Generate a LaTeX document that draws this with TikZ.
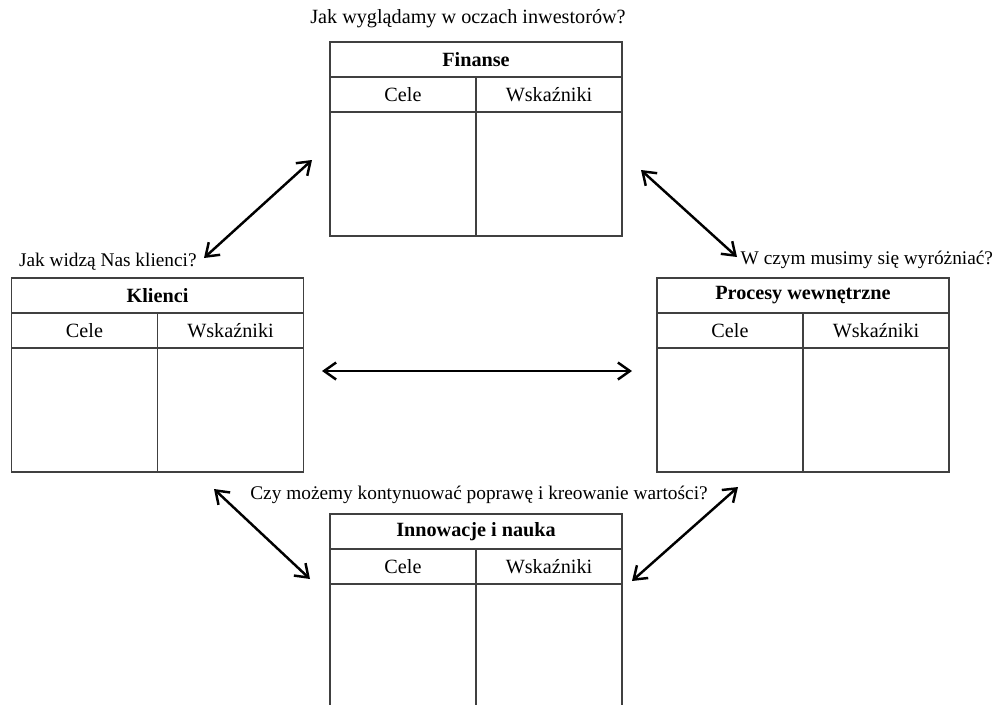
\documentclass[tikz,border=0pt]{standalone}
\usepackage{fontspec}
\setmainfont{Liberation Serif}
\usetikzlibrary{arrows.meta, positioning}

\begin{document}
\begin{tikzpicture}[every node/.style={outer sep=0pt, inner sep=0pt, font=\fontsize{11.5}{14}\selectfont},
                    head/.style={draw=black!75, line width=0.8pt, minimum width=5.84cm, minimum height=0.7cm, font=\fontsize{11.5}{14}\selectfont\bfseries},
                    col/.style={draw=black!75, line width=0.8pt, minimum width=2.92cm, minimum height=0.7cm},
                    body/.style={draw=black!75, line width=0.8pt, minimum width=2.92cm, minimum height=2.48cm},
                    both/.style={{Straight Barb[length=2.4mm, width=3.4mm]}-{Straight Barb[length=2.4mm, width=3.4mm]}, line width=1.4pt}]
                    \clip (0,0) rectangle (19.94,-14.08);

                    % Finanse
                    \node[head](fin) at (9.52,-1.19){Finanse};
                    \node[col, below right=0pt and 0pt of fin.south west](fincele){Cele};
                    \node[col, right=0pt of fincele](finwsk){Wskaźniki};
                    \node[body, below=0pt of fincele](finl){};
                    \node[body, below=0pt of finwsk](finr){};
                    \node[above=0.28cm of fin.north, xshift=-0.16cm](qfin){Jak wyglądamy w oczach inwestorów?};

                    % Klienci
                    \node[head](kli) at (3.15,-5.91){Klienci};
                    \node[col, below right=0pt and 0pt of kli.south west](klicele){Cele};
                    \node[col, right=0pt of klicele](kliwsk){Wskaźniki};
                    \node[body, below=0pt of klicele](klil){};
                    \node[body, below=0pt of kliwsk](klir){};
                    \node[anchor=west, font=\fontsize{11}{14}\selectfont](qkli) at (0.38,-5.24){Jak widzą Nas klienci?};

                    % Procesy wewnetrzne
                    \node[head](pro) at (16.06,-5.91){Procesy wewnętrzne};
                    \node[col, below right=0pt and 0pt of pro.south west](procele){Cele};
                    \node[col, right=0pt of procele](prowsk){Wskaźniki};
                    \node[body, below=0pt of procele](prol){};
                    \node[body, below=0pt of prowsk](pror){};
                    \node[anchor=east, font=\fontsize{11}{14}\selectfont](qpro) at (19.86,-5.20){W czym musimy się wyróżniać?};

                    % Innowacje i nauka
                    \node[head](inn) at (9.52,-10.63){Innowacje i nauka};
                    \node[col, below right=0pt and 0pt of inn.south west](inncele){Cele};
                    \node[col, right=0pt of inncele](innwsk){Wskaźniki};
                    \node[body, below=0pt of inncele](innl){};
                    \node[body, below=0pt of innwsk](innr){};
                    \node[font=\fontsize{11}{14}\selectfont](qinn) at (9.58,-9.90){Czy możemy kontynuować poprawę i kreowanie wartości?};

                    \coordinate(a1) at (4.08,-5.16);
                    \coordinate(a2) at (6.24,-3.20);
                    \coordinate(b1) at (12.82,-3.40);
                    \coordinate(b2) at (14.74,-5.14);
                    \coordinate(c1) at (6.44,-7.42);
                    \coordinate(c2) at (12.64,-7.42);
                    \coordinate(d1) at (4.28,-9.78);
                    \coordinate(d2) at (6.20,-11.58);
                    \coordinate(e1) at (14.76,-9.74);
                    \coordinate(e2) at (12.64,-11.62);
                    \draw[both] (a1) -- (a2);
                    \draw[both] (b1) -- (b2);
                    \draw[both] (c1) -- (c2);
                    \draw[both] (d1) -- (d2);
                    \draw[both] (e1) -- (e2);
                \end{tikzpicture}
\end{document}
